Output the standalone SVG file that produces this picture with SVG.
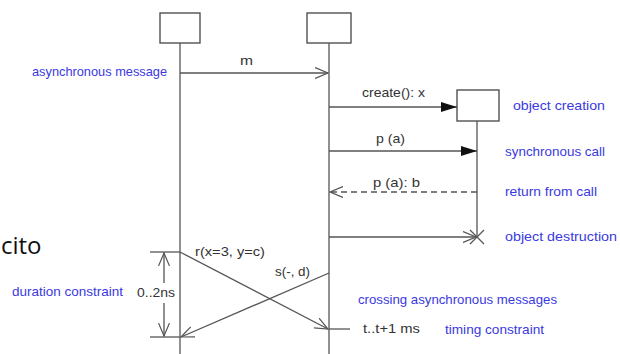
<svg xmlns="http://www.w3.org/2000/svg" width="620" height="354" viewBox="0 0 620 354">
<style>
.ln{stroke:#555;stroke-width:1.3;fill:none}
.box{stroke:#444;stroke-width:1.3;fill:#fff}
.lbl{font-family:"Liberation Sans",Arial,sans-serif;font-size:13px;fill:#333}
.note{font-family:"Liberation Sans",Arial,sans-serif;font-size:13px;fill:#3a3ae0}
</style>
<defs>
<marker id="open" viewBox="0 0 14 12" refX="13" refY="6" markerWidth="14" markerHeight="12" markerUnits="userSpaceOnUse" orient="auto">
<path d="M0,0.5 L13,6 L0,11.5" fill="none" stroke="#555" stroke-width="1.2"/>
</marker>
<marker id="filled" viewBox="0 0 16 10" refX="16" refY="5" markerWidth="16" markerHeight="10" markerUnits="userSpaceOnUse" orient="auto">
<path d="M0,0 L16,5 L0,10 Z" fill="#111"/>
</marker>
</defs>
<rect width="620" height="354" fill="#fff"/>
<g id="lifeline1">
<rect class="box" x="160" y="13" width="40" height="30"/>
<line class="ln" x1="180" y1="43" x2="180" y2="354"/>
</g>
<g id="lifeline2">
<rect class="box" x="307" y="13" width="44" height="30"/>
<line class="ln" x1="329" y1="43" x2="329" y2="354"/>
</g>
<g id="object-x">
<rect class="box" x="457" y="90" width="42" height="31"/>
<line class="ln" x1="477" y1="121" x2="477" y2="237"/>
<path d="M470,230 L484,244 M484,230 L470,244" stroke="#555" stroke-width="1.3"/>
</g>
<g id="connectors">
<line class="ln" x1="180" y1="73" x2="328" y2="73" marker-end="url(#open)"/>
<line class="ln" x1="329" y1="107" x2="457" y2="107" marker-end="url(#filled)"/>
<line class="ln" x1="329" y1="151" x2="477" y2="151" marker-end="url(#filled)"/>
<line class="ln" x1="477" y1="192" x2="330" y2="192" stroke-dasharray="6,4" marker-end="url(#open)"/>
<line class="ln" x1="329" y1="237" x2="476" y2="237" marker-end="url(#open)"/>
<line class="ln" x1="180" y1="252" x2="328" y2="329" marker-end="url(#open)"/>
<line class="ln" x1="329" y1="273" x2="181" y2="337" marker-end="url(#open)"/>
<line class="ln" x1="150" y1="252" x2="180" y2="252"/>
<line class="ln" x1="150" y1="337" x2="180" y2="337"/>
<line class="ln" x1="164" y1="283" x2="164" y2="253" marker-end="url(#open)"/>
<line class="ln" x1="164" y1="303" x2="164" y2="336" marker-end="url(#open)"/>
<line class="ln" x1="329" y1="329" x2="350" y2="329"/>
</g>
<g id="labels">
<text class="lbl" x="240" y="65" textLength="13" lengthAdjust="spacingAndGlyphs">m</text>
<text class="lbl" x="362" y="97" textLength="63" lengthAdjust="spacingAndGlyphs">create(): x</text>
<text class="lbl" x="376" y="143" textLength="29" lengthAdjust="spacingAndGlyphs">p (a)</text>
<text class="lbl" x="373" y="187" textLength="47" lengthAdjust="spacingAndGlyphs">p (a): b</text>
<text class="lbl" x="195" y="256" textLength="70" lengthAdjust="spacingAndGlyphs">r(x=3, y=c)</text>
<text class="lbl" x="275" y="276" textLength="35" lengthAdjust="spacingAndGlyphs">s(-, d)</text>
<text class="lbl" x="137" y="297" textLength="38" lengthAdjust="spacingAndGlyphs">0..2ns</text>
<text class="lbl" x="363" y="333" textLength="57" lengthAdjust="spacingAndGlyphs">t..t+1 ms</text>
<text x="1" y="254" font-family="'Open Sans','Noto Sans',sans-serif" font-size="24" fill="#111">cito</text>
</g>
<g id="notes">
<text class="note" x="32" y="76" textLength="135" lengthAdjust="spacingAndGlyphs">asynchronous message</text>
<text class="note" x="513" y="110" textLength="92" lengthAdjust="spacingAndGlyphs">object creation</text>
<text class="note" x="505" y="156" textLength="100" lengthAdjust="spacingAndGlyphs">synchronous call</text>
<text class="note" x="505" y="196" textLength="92" lengthAdjust="spacingAndGlyphs">return from call</text>
<text class="note" x="505" y="241" textLength="112" lengthAdjust="spacingAndGlyphs">object destruction</text>
<text class="note" x="12" y="296" textLength="111" lengthAdjust="spacingAndGlyphs">duration constraint</text>
<text class="note" x="358" y="304" textLength="199" lengthAdjust="spacingAndGlyphs">crossing asynchronous messages</text>
<text class="note" x="445" y="334" textLength="99" lengthAdjust="spacingAndGlyphs">timing constraint</text>
</g>
</svg>
